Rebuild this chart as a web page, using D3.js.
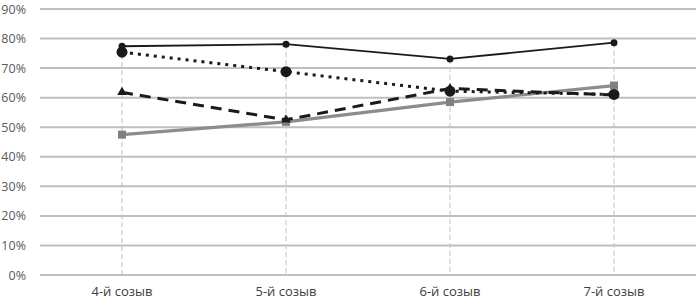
<!DOCTYPE html>
<html>
<head>
<meta charset="utf-8">
<script src="https://cdn.jsdelivr.net/npm/d3@7"></script>
<style>
  body { margin: 0; background: #fff; }
  text { font-family: "Open Sans", "DejaVu Sans", sans-serif; }
</style>
</head>
<body>
<div id="drawing"></div>
<script>
const width = 699;
const height = 300;
const margin = {top: 9, right: 3, bottom: 25, left: 40};

// data
const categories = ["4-й созыв", "5-й созыв", "6-й созыв", "7-й созыв"];
const yTicks = [0, 10, 20, 30, 40, 50, 60, 70, 80, 90];
const seriesSolid = [77.4, 78.1, 73.1, 78.6];
const seriesDotted = [75.4, 68.8, 62.2, 61.1];
const seriesDashed = [61.8, 52.5, 63.1, 60.9];
const seriesGray = [47.5, 51.8, 58.5, 64.1];

const innerW = width - margin.left - margin.right;
const innerH = height - margin.top - margin.bottom;

const svg = d3.select("#drawing").append("svg")
  .attr("width", width)
  .attr("height", height);

const g = svg.append("g")
  .attr("transform", `translate(${margin.left}, ${margin.top})`);

const xScale = d3.scalePoint().domain(categories).range([0, innerW]).padding(0.5);
const yScale = d3.scaleLinear().domain([0, 90]).range([innerH, 0]);

// horizontal gridlines
g.selectAll(".grid")
  .data(yTicks)
  .enter()
  .append("line")
    .attr("x1", 0)
    .attr("x2", innerW)
    .attr("y1", d => yScale(d))
    .attr("y2", d => yScale(d))
    .style("stroke", "#bfbfbf")
    .style("stroke-width", 2);

// y labels
g.selectAll(".ylab")
  .data(yTicks)
  .enter()
  .append("text")
    .attr("x", -14)
    .attr("y", d => yScale(d))
    .attr("dy", "0.36em")
    .attr("text-anchor", "end")
    .style("font-size", "12.5px")
    .style("fill", "#595959")
    .text(d => d + "%");

// drop lines from highest point to axis
const allSeries = [seriesSolid, seriesDotted, seriesDashed, seriesGray];
g.selectAll(".drop")
  .data(categories)
  .enter()
  .append("line")
    .attr("x1", d => xScale(d))
    .attr("x2", d => xScale(d))
    .attr("y1", (d, i) => yScale(d3.max(allSeries, s => s[i])))
    .attr("y2", yScale(0))
    .style("stroke", "#bfbfbf")
    .style("stroke-width", 1)
    .style("stroke-dasharray", "5,3");

// x labels
g.selectAll(".xlab")
  .data(categories)
  .enter()
  .append("text")
    .attr("x", d => xScale(d))
    .attr("y", innerH + 21)
    .attr("text-anchor", "middle")
    .style("font-size", "13px")
    .style("fill", "#404040")
    .text(d => d);

const line = d3.line()
  .x((d, i) => xScale(categories[i]))
  .y(d => yScale(d));

// gray series
g.append("path")
  .datum(seriesGray)
  .attr("d", line)
  .style("fill", "none")
  .style("stroke", "#8c8c8c")
  .style("stroke-width", 3.2);
g.selectAll(".sq")
  .data(seriesGray)
  .enter()
  .append("rect")
    .attr("x", (d, i) => xScale(categories[i]) - 4)
    .attr("y", d => yScale(d) - 4)
    .attr("width", 8)
    .attr("height", 8)
    .style("fill", "#808080");

// dashed series
g.append("path")
  .datum(seriesDashed)
  .attr("d", line)
  .style("fill", "none")
  .style("stroke", "#1a1a1a")
  .style("stroke-width", 3)
  .style("stroke-dasharray", "11,7");
g.selectAll(".tri")
  .data(seriesDashed)
  .enter()
  .append("path")
    .attr("transform", (d, i) => `translate(${xScale(categories[i])}, ${yScale(d)})`)
    .attr("d", d3.symbol().type(d3.symbolTriangle).size(40))
    .style("fill", "#1a1a1a");

// dotted series
g.append("path")
  .datum(seriesDotted)
  .attr("d", line)
  .style("fill", "none")
  .style("stroke", "#1a1a1a")
  .style("stroke-width", 3)
  .style("stroke-dasharray", "3,5");
g.selectAll(".bigdot")
  .data(seriesDotted)
  .enter()
  .append("circle")
    .attr("cx", (d, i) => xScale(categories[i]))
    .attr("cy", d => yScale(d))
    .attr("r", 5.5)
    .style("fill", "#1a1a1a");

// solid series
g.append("path")
  .datum(seriesSolid)
  .attr("d", line)
  .style("fill", "none")
  .style("stroke", "#1a1a1a")
  .style("stroke-width", 1.8);
g.selectAll(".dot")
  .data(seriesSolid)
  .enter()
  .append("circle")
    .attr("cx", (d, i) => xScale(categories[i]))
    .attr("cy", d => yScale(d))
    .attr("r", 3.5)
    .style("fill", "#1a1a1a");
</script>
</body>
</html>
